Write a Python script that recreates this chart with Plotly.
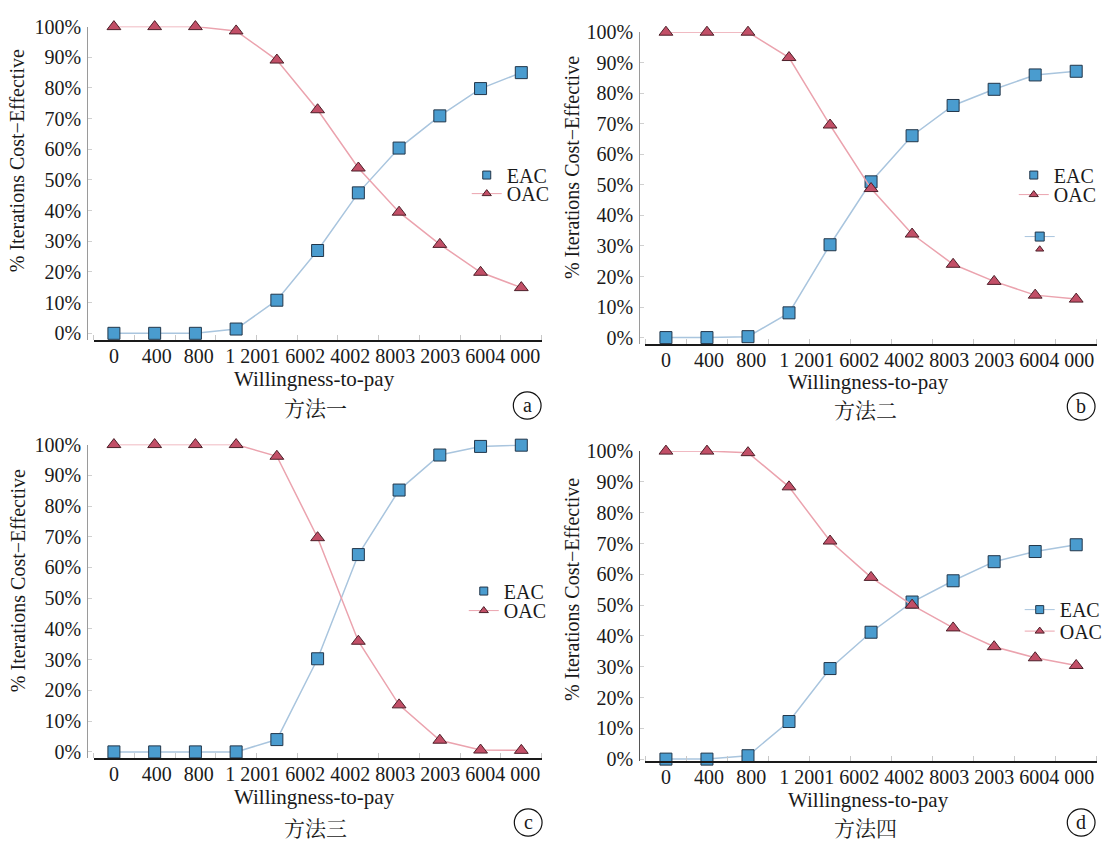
import plotly.graph_objects as go

# ---------------- data ----------------
WTP = [0, 400, 800, 1200, 1600, 2000, 2400, 2800, 3200, 3600, 4000]
X_TICK_LABELS = ["0", "400", "800", "1 200", "1 600", "2 400", "2 800", "3 200", "3 600", "4 000"]
Y_TICK_VALUES = [0, 10, 20, 30, 40, 50, 60, 70, 80, 90, 100]
Y_TICK_LABELS = ["0%", "10%", "20%", "30%", "40%", "50%", "60%", "70%", "80%", "90%", "100%"]
SERIES_NAMES = ["EAC", "OAC"]

EAC_A = [0, 0, 0, 1.4, 10.8, 27.0, 45.8, 60.4, 70.9, 79.8, 85.0]
OAC_A = [100, 100, 100, 98.6, 89.1, 72.9, 53.9, 39.5, 29.0, 19.9, 14.9]
EAC_B = [0, 0, 0.3, 8.1, 30.4, 51.0, 66.1, 76.0, 81.3, 86.0, 87.2]
OAC_B = [100, 100, 100, 91.7, 69.6, 48.8, 33.9, 24.0, 18.4, 13.9, 12.6]
EAC_C = [0, 0, 0, 0, 4.0, 30.3, 64.2, 85.2, 96.6, 99.4, 99.8]
OAC_C = [100, 100, 100, 100, 96.2, 69.7, 36.0, 15.3, 3.8, 0.6, 0.5]
EAC_D = [0, 0, 1.1, 12.2, 29.4, 41.2, 51.0, 57.9, 64.1, 67.4, 69.6]
OAC_D = [100, 100, 99.5, 88.4, 70.8, 59.0, 50.0, 42.6, 36.5, 32.9, 30.4]

CAPTIONS = ["方法一", "方法二", "方法三", "方法四"]
PANEL_LETTERS = ["a", "b", "c", "d"]
X_TITLE = "Willingness-to-pay"
Y_TITLE = "% Iterations Cost\u2212Effective"

# ---------------- styling / geometry ----------------
W, H = 1108, 852
SERIF = "Liberation Serif, Times New Roman, serif"
CJK = "Noto Serif CJK SC, Noto Sans CJK SC, sans-serif"
TXT = "#1a1a1a"

EAC_FILL, EAC_EDGE, EAC_LINE = "#4a9ccf", "#22364a", "#a9c5de"
OAC_FILL, OAC_EDGE, OAC_LINE = "#c24f67", "#4d1f29", "#eba3ae"

GEOM = [
    dict(x0=94.4, x1=546.6, yax=88, ybot=337.3, ytop=16.0, ymin=-2.3,
         xt=317, xty=377, cap=(318, 406), circ=(532, 404), yt=(18, 153),
         leg=[(491, 168, "markers"), (491, 187, "lines+markers")]),
    dict(x0=651.3, x1=1106.7, yax=645, ybot=341.0, ytop=21.7, ymin=-2.1,
         xt=876, xty=380, cap=(873, 408), circ=(1091, 405), yt=(577, 160),
         leg=[(1043, 168, "markers"), (1043, 188, "lines+markers")]),
    dict(x0=94.4, x1=546.6, yax=88, ybot=765.3, ytop=444.0, ymin=-2.1,
         xt=317, xty=805, cap=(318, 836), circ=(533, 831), yt=(18, 583),
         leg=[(488, 594, "markers"), (488, 614, "lines+markers")]),
    dict(x0=651.3, x1=1106.7, yax=645, ybot=768.3, ytop=450.7, ymin=-0.7,
         xt=876, xty=808, cap=(873, 836), circ=(1091, 831), yt=(577, 592),
         leg=[(1049, 613, "lines+markers"), (1049, 635, "lines+markers")]),
]
PANEL_DATA = [(EAC_A, OAC_A), (EAC_B, OAC_B), (EAC_C, OAC_C), (EAC_D, OAC_D)]


def marker_style(j, size):
    if j == 0:
        return dict(symbol="square", size=size, color=EAC_FILL, line=dict(color=EAC_EDGE, width=1))
    return dict(symbol="triangle-up", size=size, color=OAC_FILL, line=dict(color=OAC_EDGE, width=1))


def line_style(j):
    return dict(color=EAC_LINE if j == 0 else OAC_LINE, width=1.5)


fig = go.Figure()
layout = dict(width=W, height=H, margin=dict(l=0, r=0, t=0, b=0),
              paper_bgcolor="white", plot_bgcolor="white", showlegend=True,
              annotations=[], shapes=[])

tickvals = [WTP[0], WTP[1] * 1.05, WTP[2] * 1.04, 2640]
ticktext = X_TICK_LABELS[:3] + ["".join(X_TICK_LABELS[3:])]

legend_count = [0]


def new_legend(mx, my, size=20):
    legend_count[0] += 1
    n = legend_count[0]
    lname = "legend" if n == 1 else f"legend{n}"
    layout[lname] = dict(x=(mx - 20) / W, y=1 - my / H, xanchor="left", yanchor="middle",
                         xref="paper", yref="paper", bgcolor="rgba(0,0,0,0)",
                         font=dict(family=SERIF, size=size, color=TXT),
                         tracegroupgap=0, borderwidth=0)
    return lname


for i, (g, (eac, oac)) in enumerate(zip(GEOM, PANEL_DATA)):
    sfx = "" if i == 0 else str(i + 1)
    xa, ya = "x" + sfx, "y" + sfx
    for j, (name, vals) in enumerate(zip(SERIES_NAMES, (eac, oac))):
        fig.add_trace(go.Scatter(x=WTP, y=vals, name=name, mode="lines+markers",
                                 marker=marker_style(j, 12), line=line_style(j),
                                 xaxis=xa, yaxis=ya, showlegend=False, cliponaxis=False))
        mx, my, mode = g["leg"][j]
        lname = new_legend(mx, my)
        fig.add_trace(go.Scatter(x=[None], y=[None], name=name, mode=mode,
                                 marker=marker_style(j, 8), line=dict(color=line_style(j)["color"], width=1),
                                 xaxis=xa, yaxis=ya, legend=lname, showlegend=True))

    layout["xaxis" + sfx] = dict(
        domain=[g["x0"] / W, g["x1"] / W], anchor=ya, range=[-200, 4200],
        showline=True, linecolor="#1a1a1a", linewidth=2, showgrid=False, zeroline=False,
        tickmode="array", tickvals=tickvals, ticktext=ticktext, ticks="", tickangle=0,
        ticklabeloverflow="allow", ticklabelstandoff=-3,
        tickfont=dict(family=SERIF, size=20, color=TXT),
        minor=dict(tickmode="linear", tick0=-200, dtick=400, ticks="inside",
                   ticklen=5, tickcolor="#c8c8c8", tickwidth=1, showgrid=False),
        fixedrange=True)
    layout["yaxis" + sfx] = dict(
        domain=[1 - g["ybot"] / H, 1 - g["ytop"] / H], anchor="free", position=g["yax"] / W,
        range=[g["ymin"], 100],
        showline=True, linecolor="#9a9a9a" if i < 3 else "#555555", linewidth=1.2,
        showgrid=False, zeroline=False,
        tickmode="array", tickvals=Y_TICK_VALUES, ticktext=Y_TICK_LABELS,
        ticks="inside", ticklen=4, tickcolor="#d0d0d0", ticklabelstandoff=2,
        tickfont=dict(family=SERIF, size=20, color=TXT), fixedrange=True)

    layout["annotations"].append(dict(
        text=X_TITLE, x=g["xt"] / W, y=1 - g["xty"] / H, xref="paper", yref="paper",
        showarrow=False, xanchor="center", yanchor="middle",
        font=dict(family=SERIF, size=21, color=TXT)))
    layout["annotations"].append(dict(
        text=Y_TITLE, x=g["yt"][0] / W, y=1 - g["yt"][1] / H, xref="paper", yref="paper",
        showarrow=False, xanchor="center", yanchor="middle", textangle=-90,
        font=dict(family=SERIF, size=20, color=TXT)))
    layout["annotations"].append(dict(
        text=CAPTIONS[i], x=g["cap"][0] / W, y=1 - g["cap"][1] / H, xref="paper", yref="paper",
        showarrow=False, xanchor="center", yanchor="middle",
        font=dict(family=CJK, size=21, color=TXT)))
    cx, cy = g["circ"]
    r = 14
    layout["shapes"].append(dict(
        type="circle", xref="paper", yref="paper",
        x0=(cx - r) / W, x1=(cx + r) / W, y0=1 - (cy + r) / H, y1=1 - (cy - r) / H,
        line=dict(color="#111111", width=1.2)))
    layout["annotations"].append(dict(
        text=PANEL_LETTERS[i], x=cx / W, y=1 - (cy - 1) / H, xref="paper", yref="paper",
        showarrow=False, xanchor="center", yanchor="middle",
        font=dict(family=SERIF, size=20, color=TXT)))

# stray, unlabeled legend symbols that appear in panel (b)
for j, (mx, my, mode) in enumerate([(1049, 231, "lines+markers"), (1049, 244, "markers")]):
    lname = new_legend(mx, my, size=8)
    fig.add_trace(go.Scatter(x=[None], y=[None], name="", mode=mode,
                             marker=marker_style(j, 9 if j == 0 else 7),
                             line=dict(color=line_style(j)["color"], width=1),
                             xaxis="x2", yaxis="y2", legend=lname, showlegend=True))

fig.update_layout(**layout)
fig.write_html("out.html", config={"displayModeBar": False},
               post_script="document.body.style.margin='0';")
